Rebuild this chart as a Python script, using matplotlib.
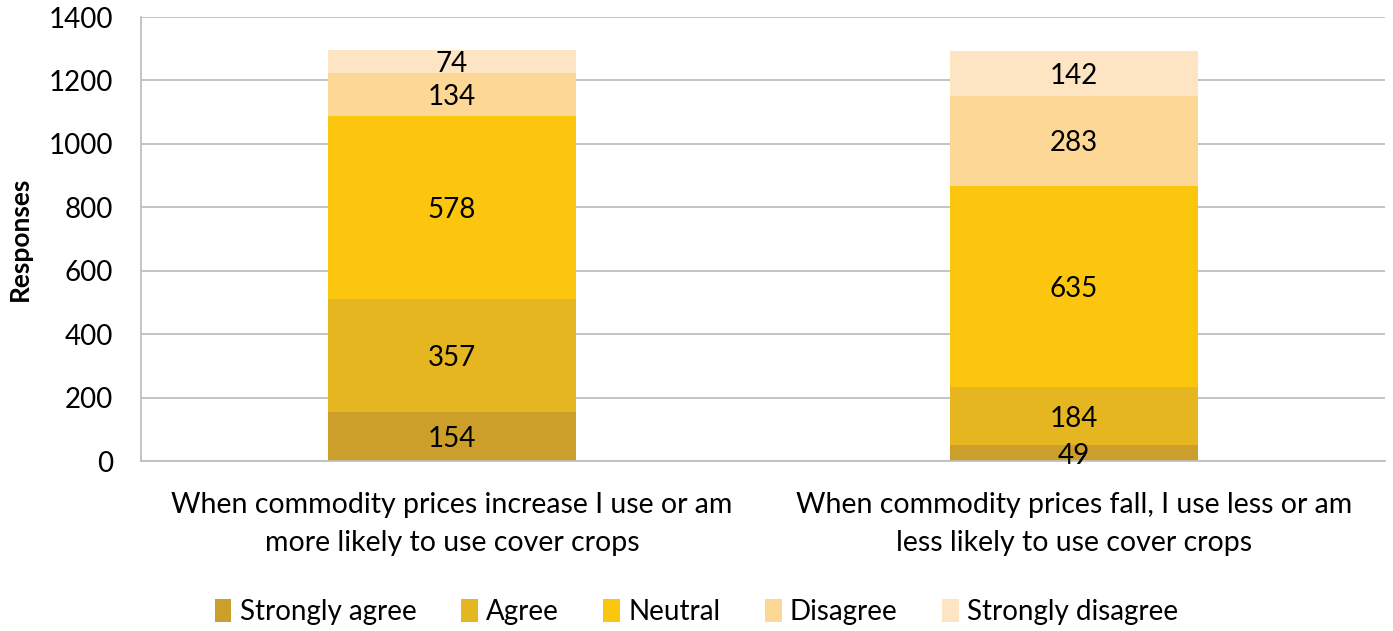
import numpy as np
import matplotlib.pyplot as plt

plt.rcParams['font.family'] = ['Lato', 'DejaVu Sans']

categories = ["When commodity prices increase I use or am\nmore likely to use cover crops",
              "When commodity prices fall, I use less or am\nless likely to use cover crops"]
series = ["Strongly agree", "Agree", "Neutral", "Disagree", "Strongly disagree"]
strongly_agree = [154, 49]
agree = [357, 184]
neutral = [578, 635]
disagree = [134, 283]
strongly_disagree = [74, 142]
colors = ["#CC9F2B", "#E5B61F", "#FDC60E", "#FDD795", "#FDE5C3"]

values = [strongly_agree, agree, neutral, disagree, strongly_disagree]

fig = plt.figure(figsize=(13.93, 6.31), dpi=100)
ax = fig.add_axes([0.1012, 0.2694, 0.8931, 0.7036])

x = np.arange(len(categories))
bottom = np.zeros(len(categories))
for name, vals, c in zip(series, values, colors):
    vals = np.array(vals, dtype=float)
    ax.bar(x, vals, 0.4, bottom=bottom, color=c, label=name, zorder=2)
    for xi, b, v in zip(x, bottom, vals):
        ax.text(xi, b + v / 2, f"{int(v)}", ha="center", va="center_baseline",
                fontsize=20, color="black", zorder=3)
    bottom += vals

ax.set_xlim(-0.5, 1.5)
ax.set_ylim(0, 1400)
ax.set_yticks(np.arange(0, 1401, 200))
ax.yaxis.grid(True, color="#BFBFBF", linewidth=1.3, zorder=0)
ax.set_axisbelow(True)
for s in ["top", "right"]:
    ax.spines[s].set_visible(False)
for s in ["left", "bottom"]:
    ax.spines[s].set_color("#BFBFBF")
    ax.spines[s].set_linewidth(1.3)
ax.tick_params(axis="y", length=0, labelsize=20, pad=20)
ax.tick_params(axis="x", length=0, labelsize=20.5, pad=22)
ax.set_xticks(x)
ax.set_xticklabels(categories, linespacing=1.6)
ax.set_ylabel("Responses", fontsize=19, fontweight="bold", labelpad=12)

ax.legend(loc="center", bbox_to_anchor=(0.5, 0.03), bbox_transform=fig.transFigure,
          ncol=5, frameon=False, fontsize=20, handlelength=0.6, handleheight=0.9,
          handletextpad=0.3, columnspacing=1.6)

fig.savefig("out.png", dpi=100)
